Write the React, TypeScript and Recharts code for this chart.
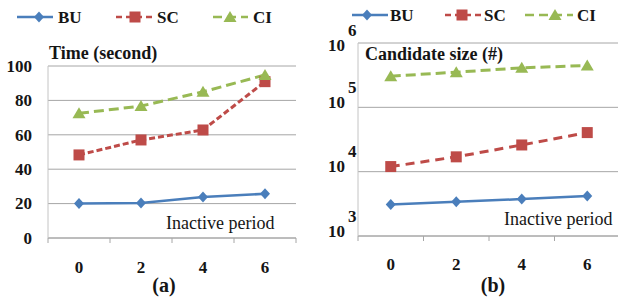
import React from "react";
import { LineChart, Line, XAxis, YAxis, CartesianGrid } from "recharts";

const periods = [0, 2, 4, 6];
const seriesNames = ["BU", "SC", "CI"];
const timeBU = [20, 20.3, 23.8, 25.7];
const timeSC = [48.3, 57, 62.8, 90.9];
const timeCI = [72.5, 76.7, 85, 94.8];
const sizeBU = [3100, 3400, 3750, 4200];
const sizeSC = [12000, 17000, 26000, 40500];
const sizeCI = [305000, 352000, 411000, 447000];
const timeTicks = [0, 20, 40, 60, 80, 100];
const sizeTicks = [1000, 10000, 100000, 1000000];

const timeData = periods.map((p, i) => ({ period: p, BU: timeBU[i], SC: timeSC[i], CI: timeCI[i] }));
const sizeData = periods.map((p, i) => ({ period: p, BU: sizeBU[i], SC: sizeSC[i], CI: sizeCI[i] }));

const FONT = "Liberation Serif";
const INK = "#151515";
const GRID = "#a6a6a6";
const colors: Record<string, string> = { BU: "#4a7ebb", SC: "#be4b48", CI: "#98b954" };
const bold = { fontFamily: FONT, fontWeight: 700 } as const;

function Marker({ name, cx, cy }: { name: string; cx: number; cy: number }) {
  const c = colors[name];
  if (name === "BU")
    return <path d={`M${cx} ${cy - 5.5}L${cx + 5} ${cy}L${cx} ${cy + 5.5}L${cx - 5} ${cy}Z`} fill={c} />;
  if (name === "SC") return <rect x={cx - 5.5} y={cy - 5.5} width={11} height={11} fill={c} />;
  return <path d={`M${cx} ${cy - 6}L${cx + 6.5} ${cy + 5}L${cx - 6.5} ${cy + 5}Z`} fill={c} />;
}

const dotFor = (name: string) => (p: any) =>
  p.cx == null ? <g key={p.index} /> : <Marker key={p.index} name={name} cx={p.cx} cy={p.cy} />;

const makeXTick = (fallbackW: number, labelOff: number) => (props: any) => {
  const { x, y, payload, index, visibleTicksCount } = props;
  const w = typeof props.width === "number" && props.width > 0 ? props.width : fallbackW;
  const half = w / 8;
  return (
    <g>
      <line x1={x - half} x2={x - half} y1={y} y2={y + 5} stroke={GRID} />
      {index === visibleTicksCount - 1 && <line x1={x + half} x2={x + half} y1={y} y2={y + 5} stroke={GRID} />}
      <text x={x} y={y + labelOff} dy="0.34em" textAnchor="middle" style={bold} fontSize={17} fill={INK}>
        {payload.value}
      </text>
    </g>
  );
};

const TimeTick = (props: any) => (
  <text x={props.x} y={props.y} dy="0.34em" textAnchor="end" style={bold} fontSize={17} fill={INK}>
    {props.payload.value}
  </text>
);

const PowTick = (props: any) => {
  const { x, y, payload } = props;
  const exp = Math.round(Math.log10(payload.value));
  const cy = Math.max(y - 5, 45);
  return (
    <g fill={INK}>
      <text x={x} y={cy} dy="0.34em" textAnchor="end" style={bold} fontSize={17}>10</text>
      <text x={x + 3} y={cy - 15} dy="0.34em" textAnchor="start" style={bold} fontSize={17}>{exp}</text>
    </g>
  );
};

function series(dash: Record<string, string>) {
  return seriesNames.map((n) => (
    <Line
      key={n}
      dataKey={n}
      stroke={colors[n]}
      strokeWidth={n === "BU" ? 2.5 : 3}
      strokeDasharray={dash[n]}
      dot={dotFor(n)}
      activeDot={false}
      isAnimationActive={false}
    />
  ));
}

const legendLeft = [
  { x1: 17, x2: 53, m: 39, t: 58 },
  { x1: 116, x2: 154, m: 135, t: 157 },
  { x1: 213, x2: 248, m: 230, t: 253 },
];
const legendRight = [
  { x1: 352, x2: 388, m: 367, t: 390 },
  { x1: 445, x2: 483, m: 462, t: 484 },
  { x1: 525, x2: 573, m: 555, t: 577 },
];
const legendDash: Record<string, string | undefined> = { BU: undefined, SC: "6 4", CI: "9 5" };

function LegendRow({ items, y }: { items: typeof legendLeft; y: number }) {
  return (
    <g>
      {seriesNames.map((n, i) => (
        <g key={n}>
          <line x1={items[i].x1} x2={items[i].x2} y1={y} y2={y} stroke={colors[n]} strokeWidth={2.5} strokeDasharray={legendDash[n]} />
          <Marker name={n} cx={items[i].m} cy={y} />
          <text x={items[i].t} y={y} dy="0.34em" style={bold} fontSize={17} fill={INK}>
            {n}
          </text>
        </g>
      ))}
    </g>
  );
}

export default function App() {
  return (
    <div style={{ position: "absolute", left: 0, top: 0, width: 618, height: 298, overflow: "hidden", background: "#fff" }}>
      <div style={{ position: "absolute", left: 0, top: 0 }}>
        <LineChart width={310} height={298} data={timeData} margin={{ top: 66, right: 14, bottom: 20, left: 0 }}>
          <CartesianGrid horizontal vertical={false} stroke={GRID} />
          <XAxis
            dataKey="period"
            type="number"
            domain={[-1, 7]}
            ticks={periods}
            interval={0}
            height={40}
            tickLine={false}
            tickSize={0}
            tickMargin={0}
            axisLine={{ stroke: GRID }}
            tick={makeXTick(248, 29)}
          />
          <YAxis
            domain={[0, 100]}
            ticks={timeTicks}
            interval={0}
            width={48}
            tickLine={false}
            tickSize={0}
            tickMargin={16}
            axisLine={{ stroke: "#c4c4c4" }}
            tick={TimeTick}
          />
          {series({ BU: "", SC: "6 3", CI: "10 5" })}
        </LineChart>
      </div>
      <div style={{ position: "absolute", left: 310, top: 0 }}>
        <LineChart width={320} height={298} data={sizeData} margin={{ top: 43, right: 10, bottom: 22, left: 0 }}>
          <CartesianGrid horizontal vertical={false} stroke={GRID} />
          <XAxis
            dataKey="period"
            type="number"
            domain={[-1, 7]}
            ticks={periods}
            interval={0}
            height={40}
            tickLine={false}
            tickSize={0}
            tickMargin={0}
            axisLine={{ stroke: GRID }}
            tick={makeXTick(262, 28)}
          />
          <YAxis
            scale="log"
            type="number"
            domain={[1000, 1000000]}
            allowDataOverflow
            ticks={sizeTicks}
            interval={0}
            width={48}
            tickLine={false}
            tickSize={0}
            tickMargin={13}
            axisLine={{ stroke: "#c4c4c4" }}
            tick={PowTick}
          />
          {series({ BU: "", SC: "9 6", CI: "10 5" })}
        </LineChart>
      </div>
      <svg width={618} height={298} style={{ position: "absolute", left: 0, top: 0, pointerEvents: "none" }}>
        <LegendRow items={legendLeft} y={17} />
        <LegendRow items={legendRight} y={15} />
        <text x={49} y={59} style={bold} fontSize={18} fill={INK}>Time (second)</text>
        <text x={365} y={60} style={bold} fontSize={18} fill={INK}>Candidate size (#)</text>
        <text x={166} y={229} style={{ fontFamily: FONT }} fontSize={18} fill={INK}>Inactive period</text>
        <text x={504} y={225} style={{ fontFamily: FONT }} fontSize={18} fill={INK}>Inactive period</text>
        <text x={164} y={292} textAnchor="middle" style={bold} fontSize={20} fill={INK}>(a)</text>
        <text x={493} y={292} textAnchor="middle" style={bold} fontSize={20} fill={INK}>(b)</text>
      </svg>
    </div>
  );
}
